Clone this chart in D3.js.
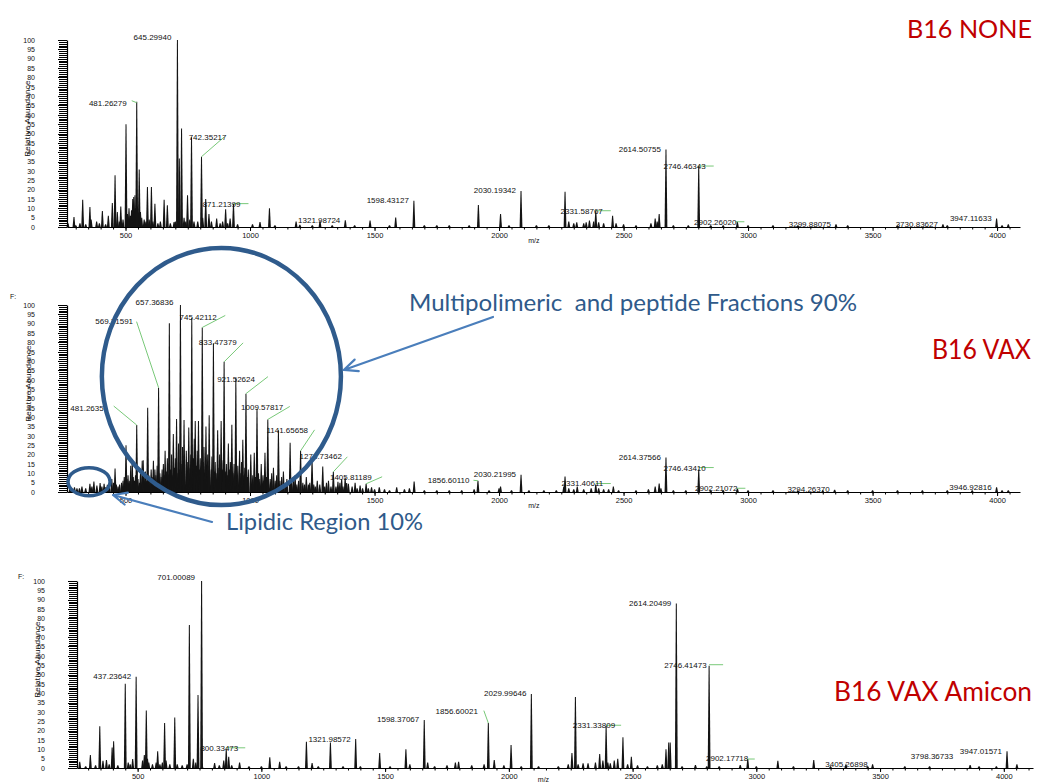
<!DOCTYPE html>
<html>
<head>
<meta charset="utf-8">
<title>B16 MALDI spectra</title>
<script src="https://cdn.jsdelivr.net/npm/d3@7"></script>
<style>
  html, body { margin: 0; padding: 0; background: #fff; }
  svg { display: block; background: #fff; }
  .spec text { font-family: "Liberation Sans", Arial, sans-serif; fill: #111; }
  .callout { font-family: Lato, "Open Sans", sans-serif; }
</style>
</head>
<body>
<svg id="chart" width="1038" height="783"></svg>
<script>
// ---------------- axis tick labels ----------------
const mzTicks = [500, 1000, 1500, 2000, 2500, 3000, 3500, 4000];
const abundanceTicks = [0, 5, 10, 15, 20, 25, 30, 35, 40, 45, 50, 55, 60, 65, 70, 75, 80, 85, 90, 95, 100];

// ---------------- B16 NONE ----------------
// annotated centroids: label text is the calibrated m/z, second array the relative abundance
const noneLabels = ["481.26279", "645.29940", "742.35217", "871.21399", "1321.98724", "1598.43127", "2030.19342",
  "2331.58767", "2614.50755", "2746.46343", "2902.26020", "3299.88075", "3730.83627", "3947.11633"];
const noneAbundance = [67, 100, 37.6, 12.5, 3.6, 14, 19.3, 8.7, 41.5, 32.6, 2.8, 1.5, 1.5, 4.6];
// calibrated m/z -> scan-axis m/z (two reference centroids)
const noneCalibration = [[481.26279, 545], [3947.11633, 3998]];
// unannotated profile peaks on the scan axis [m/z, relative abundance]
const noneProfile = [
  [269, 2], [293, 5.4], [300, 1], [317, 2], [328, 14.6], [340, 1.5], [357, 10.7], [362, 4], [384, 3], [395, 2],
  [407, 8.6], [420, 1.5], [431, 6], [447, 12.9], [458, 27.7], [467, 8], [475, 3], [481, 11], [490, 4], [502, 55],
  [508, 7], [514, 10], [520, 6], [524, 9], [529, 15], [533, 16], [538, 17], [540, 10], [548, 9], [552, 6],
  [555, 30.7], [560, 8], [565, 5], [575, 4], [582, 3], [588, 21.4], [595, 4], [604, 21.4], [610, 3], [618, 12.5],
  [630, 2], [640, 3], [655, 14.6], [668, 11.6], [680, 2], [695, 2.7], [700, 3], [716, 36.6], [725, 52.7], [735, 5],
  [742, 3], [749, 17], [758, 4], [765, 48], [775, 3], [790, 3], [810, 5], [822, 15], [835, 7], [845, 3],
  [866, 4.5], [880, 2], [890, 3], [902, 9.5], [910, 2], [920, 4.5], [950, 1.5], [1010, 1.5], [1040, 2.7], [1078, 10],
  [1100, 1], [1185, 3], [1200, 1.2], [1250, 1], [1281, 3.2], [1330, 1], [1420, 1], [1482, 3.5], [1560, 1], [1585, 5.1],
  [1700, 1], [1750, 1], [1800, 1], [1880, 1], [1917, 11.7], [2006, 7], [2040, 1], [2150, 1], [2200, 1], [2265, 18.8],
  [2280, 3], [2300, 2], [2312, 2.6], [2340, 2], [2350, 2.5], [2363, 3.5], [2380, 3], [2400, 2.5], [2420, 2], [2456, 6],
  [2470, 2], [2500, 1.5], [2550, 1], [2610, 2], [2627, 4.6], [2635, 3], [2643, 7], [2700, 1], [2760, 1], [2850, 1],
  [2900, 1], [3000, 1], [3100, 1], [3200, 1], [3400, 1], [3600, 1], [3800, 1], [4020, 1], [4045, 1.5]
];

// ---------------- B16 VAX ----------------
const vaxLabels = ["481.2635", "569.31591", "657.36836", "745.42112", "833.47379", "921.52624", "1009.57817",
  "1141.65658", "1273.73462", "1405.81189", "1856.60110", "2030.21995", "2331.40611", "2614.37566", "2746.43410",
  "2902.21072", "3294.26370", "3946.92816"];
const vaxAbundance = [35.8, 55.8, 100, 88, 69.6, 52.6, 38.8, 22, 10.8, 4.4, 6, 9.2, 4, 18.4, 12, 2, 1.2, 2.6];
const vaxCalibration = [[481.2635, 545], [3946.92816, 3998]];
const vaxProfile = [
  [277, 2.3], [285, 1.5], [295, 2.5], [305, 2], [315, 2], [325, 3], [340, 2], [357, 4.4], [365, 3], [373, 5.6],
  [385, 3.5], [398, 4.8], [405, 3], [414, 4.4], [420, 2.5], [427, 3.9], [435, 3], [445, 7], [452, 5], [458, 12.6],
  [463, 4], [470, 3], [476, 4], [484, 5], [490, 6], [495, 8], [498, 5], [502, 25], [506, 7], [510, 9],
  [515, 6], [521, 14], [527, 16.7], [531, 8], [536, 6], [540, 9], [550, 7], [556, 5], [560, 10], [567, 16.7],
  [571, 17], [575, 8], [580, 11], [585, 6], [589, 45], [594, 9], [598, 7], [603, 12], [607, 8], [612, 16.7],
  [618, 12], [622, 9], [627, 14], [630, 7], [638, 10], [643, 8], [647, 12], [652, 15], [656, 9], [659, 22],
  [664, 11], [668, 18], [671, 8], [676, 90.3], [681, 12], [685, 20], [688, 9], [692, 31], [697, 13], [700, 18],
  [705, 39], [710, 10], [713, 26], [716, 12], [726, 15], [729, 24], [735, 38.5], [744, 22], [747, 12], [750, 16],
  [754, 34.5], [759, 13], [762, 20], [766, 93], [770, 11], [773, 18], [776, 28.5], [780, 38], [785, 14], [788, 22],
  [793, 38], [797, 12], [800, 18], [812, 16], [815, 24], [818, 10], [823, 35], [827, 14], [830, 20], [836, 41],
  [844, 12], [847, 19], [853, 79.6], [857, 11], [860, 16], [864, 10], [870, 33], [875, 13], [878, 20], [884, 38],
  [889, 12], [892, 17], [902, 11], [905, 15], [909, 9], [913, 26], [918, 12], [921, 16], [927, 36], [932, 10],
  [936, 15], [943, 61], [948, 9], [951, 14], [958, 22], [963, 10], [966, 16], [971, 28], [976, 9], [979, 13],
  [990, 8], [993, 12], [1003, 20], [1011, 9], [1017, 21], [1022, 8], [1028, 44.5], [1034, 10], [1037, 7], [1045, 15],
  [1052, 9], [1055, 6], [1060, 21], [1066, 8], [1081, 7], [1087, 10], [1094, 13], [1101, 6], [1107, 9], [1114, 33],
  [1120, 6], [1127, 8], [1134, 11], [1142, 5], [1148, 7], [1161, 26.4], [1167, 5], [1174, 8], [1181, 9], [1188, 4],
  [1195, 6], [1212, 5], [1219, 4], [1226, 8], [1234, 4], [1240, 5], [1249, 17.8], [1256, 4], [1262, 3], [1270, 6],
  [1280, 4], [1292, 13.7], [1300, 3], [1307, 5], [1315, 6], [1325, 3], [1345, 3], [1353, 5.5], [1361, 5], [1368, 7],
  [1373, 3], [1382, 7.8], [1388, 4.8], [1395, 4.4], [1410, 3], [1422, 5], [1430, 2], [1442, 3.5], [1452, 2], [1475, 2],
  [1488, 2.5], [1500, 1.5], [1519, 2.5], [1540, 1.5], [1560, 1], [1589, 2.5], [1620, 1.5], [1640, 2], [1659, 5.6], [1700, 1],
  [1750, 1], [1800, 1], [1850, 1], [1900, 1.5], [1960, 1], [2000, 2], [2006, 3], [2050, 1], [2120, 1], [2180, 1],
  [2230, 1], [2260, 3], [2265, 8.3], [2280, 2], [2300, 1.5], [2314, 3], [2340, 1.5], [2370, 2], [2400, 2], [2420, 1.5],
  [2440, 1.5], [2459, 3], [2480, 1], [2550, 1], [2600, 1.5], [2627, 3], [2643, 4.6], [2650, 2], [2700, 1], [2750, 1],
  [2850, 1], [2900, 1], [3000, 1], [3100, 1], [3200, 1], [3300, 1], [3400, 1], [3500, 1], [3600, 1], [3700, 1],
  [3800, 1], [3900, 1], [4020, 1], [4045, 1]
];

// ---------------- B16 VAX Amicon ----------------
const amiconLabels = ["437.23642", "701.00089", "800.33473", "1321.98572", "1598.37067", "1856.60021", "2029.99646",
  "2331.33809", "2614.20499", "2746.41473", "2902.17718", "3405.26898", "3798.36733", "3947.01571"];
const amiconAbundance = [48.8, 100, 10, 15.5, 25.7, 24, 39.6, 22.6, 88, 54.7, 4.8, 2, 1.6, 8.9];
const amiconCalibration = [[437.23642, 494], [3947.01571, 4013]];
const amiconProfile = [
  [266, 3.4], [290, 1], [309, 7], [330, 1.5], [347, 22.3], [360, 3.9], [374, 4.3], [385, 2], [397, 11], [403, 14.3],
  [420, 1.5], [450, 45], [462, 3], [470, 2], [480, 4.8], [520, 4], [527, 7], [530, 6], [535, 30.7], [540, 5],
  [545, 3], [560, 2], [575, 3], [581, 9], [590, 2], [600, 3], [609, 24], [615, 4], [630, 2], [650, 27],
  [660, 2], [680, 1.5], [700, 2], [709, 76.5], [725, 5], [735, 3], [744, 39], [760, 2], [811, 2.7], [830, 1.5],
  [848, 4], [868, 6], [880, 1.5], [912, 3], [950, 1], [1000, 1], [1034, 5.7], [1074, 3.4], [1100, 1], [1150, 1],
  [1182, 14], [1205, 2.7], [1230, 1], [1279, 13.7], [1330, 1], [1400, 1], [1478, 8], [1520, 1], [1584, 10], [1600, 2],
  [1672, 3], [1700, 1], [1750, 1.5], [1784, 3], [1797, 3.4], [1850, 1.5], [1900, 2], [1941, 4.3], [1980, 1.5], [2009, 12.3],
  [2050, 1], [2120, 1], [2200, 1], [2240, 2], [2255, 8], [2269, 38], [2280, 2], [2300, 2.5], [2320, 2.5], [2350, 3],
  [2367, 7.5], [2380, 4], [2400, 3], [2410, 2.5], [2426, 4], [2440, 5], [2461, 16.4], [2480, 2], [2495, 6], [2520, 1.5],
  [2560, 1], [2600, 1.5], [2620, 2], [2635, 10], [2646, 13.7], [2652, 13.7], [2700, 1], [2754, 1.6], [2800, 1], [2850, 1],
  [2935, 1.6], [3000, 1], [3087, 3.9], [3150, 1], [3232, 4.3], [3300, 1], [3362, 2], [3450, 1], [3600, 1], [3700, 1],
  [3900, 1], [3970, 1], [4053, 2]
];

// ---------------- layout ----------------
const frames = [
  { left: 67, right: 1020, base: 227, top: 40, domain: [265, 4092], tickRight: 35, yTitleX: 27, fMark: null, mzTitleY: 243 },
  { left: 67, right: 1020, base: 492, top: 305, domain: [265, 4092], tickRight: 35, yTitleX: 28, fMark: [10, 299], mzTitleY: 508 },
  { left: 77, right: 1033, base: 768, top: 581, domain: [255, 4118], tickRight: 45, yTitleX: 37.5, fMark: [18, 579], mzTitleY: 782 }
];

// label offsets from the peak apex (text anchored at its end) and optional leader segment
const defaultPlace = { tx: -5, ty: 2.5 };
const placements = [
  {
    "481.26279": { tx: -10, ty: 4, leader: [-5, -1, 0, 1] },
    "645.29940": { tx: -6, ty: 0 },
    "742.35217": { tx: 25, ty: -17, leader: [0, 0, 23, -20] },
    "871.21399": { tx: 7, ty: 3.5, leader: [0, 0, 15, 0] },
    "2331.58767": { tx: 7, ty: 3.5, leader: [0, 0, 15, 0] },
    "2746.46343": { tx: 7, ty: 3, leader: [0, 0, 15, 0] },
    "2902.26020": { tx: -1, ty: 3, leader: [-2, 0, 7, 0] }
  },
  {
    "481.2635": { tx: -33, ty: -14.5, leader: [0, 0, -23, -19] },
    "569.31591": { tx: -25.5, ty: -63.5, leader: [0, 0, -22, -66] },
    "657.36836": { tx: -7, ty: 0 },
    "745.42112": { tx: 14.5, ty: -7.5, leader: [0, 0, 23, -12] },
    "833.47379": { tx: 12.5, ty: -17, leader: [0, 0, 19, -19] },
    "921.52624": { tx: 9, ty: -12, leader: [0, 0, 22, -17] },
    "1009.57817": { tx: 15.5, ty: -9.5, leader: [0, 0, 22, -13] },
    "1141.65658": { tx: 7.5, ty: -18, leader: [0, 0, 14, -21] },
    "1273.73462": { tx: 8.5, ty: -12.5, leader: [0, 0, 14, -15] },
    "1405.81189": { tx: 5.5, ty: -3.5, leader: [0, 0, 16, -7] },
    "1856.60110": { tx: -8.5, ty: 2, leader: [-4.5, -0.5, 0, 0] },
    "2331.40611": { tx: 7.5, ty: 1.5, leader: [0, -1, 15, -1] },
    "2746.43410": { tx: 7, ty: 1, leader: [0, -2, 15, -2] },
    "2902.21072": { tx: 0, ty: 3, leader: [-1, 0, 8, 0] }
  },
  {
    "701.00089": { tx: -6.5, ty: -1 },
    "800.33473": { tx: 12, ty: 1.7, leader: [0, -1.5, 19, -1.5] },
    "1856.60021": { tx: -10.5, ty: -9, leader: [0, 0, -4.5, -12.5] },
    "2331.33809": { tx: 9, ty: 2, leader: [0, -0.5, 15, -0.5] },
    "2746.41473": { tx: -2.5, ty: 2, leader: [0, -1, 14, -1] },
    "2902.17718": { tx: 0.5, ty: 2.3, leader: [-1, 0, 7, 0] },
    "3798.36733": { tx: -17, ty: -6.3 }
  }
];

const spectra = [
  { labels: noneLabels, abundance: noneAbundance, calibration: noneCalibration, profile: noneProfile },
  { labels: vaxLabels, abundance: vaxAbundance, calibration: vaxCalibration, profile: vaxProfile },
  { labels: amiconLabels, abundance: amiconAbundance, calibration: amiconCalibration, profile: amiconProfile }
];

const svg = d3.select("#chart");
const scales = [];
const plainInt = d3.format("d");

// trapezoidal profile peak: ~1 px flat apex, slightly wider foot
function peakPath(x, base, top) {
  const hw = 1.4, tw = 0.5;
  return `M${x - hw},${base}L${x - tw},${top}L${x + tw},${top}L${x + hw},${base}Z`;
}

spectra.forEach((spec, i) => {
  const f = frames[i];
  const x = d3.scaleLinear().domain(f.domain).range([f.left, f.right]);
  const y = d3.scaleLinear().domain([0, 100]).range([f.base, f.top]);
  const calib = d3.scaleLinear()
    .domain(spec.calibration.map(d => d[0]))
    .range(spec.calibration.map(d => d[1]));
  scales.push({ x, y });

  const g = svg.append("g").attr("class", "spec");

  // profile peaks
  g.append("g").selectAll("path").data(spec.profile).join("path")
    .attr("d", d => peakPath(x(d[0]), f.base, y(d[1])))
    .attr("fill", "#141414");

  // annotated centroids, placed on the scan axis through the calibration
  const cents = spec.labels.map((t, k) => {
    const mz = +t;
    return { text: t, mz, v: spec.abundance[k], px: x(calib(mz)), py: y(spec.abundance[k]) };
  });
  g.append("g").selectAll("path").data(cents).join("path")
    .attr("d", d => peakPath(d.px, f.base, d.py))
    .attr("fill", "#141414");

  // y axis: unit minor ticks + labelled majors
  const yMinor = g.append("g").attr("transform", `translate(${f.left},0)`)
    .call(d3.axisLeft(y).ticks(100).tickSize(8).tickSizeOuter(0).tickFormat(""));
  yMinor.select(".domain").remove();
  yMinor.selectAll("line").attr("stroke", "#000").attr("stroke-width", 1).attr("shape-rendering", "crispEdges");

  const yMajor = g.append("g").attr("transform", `translate(${f.left},0)`)
    .call(d3.axisLeft(y).tickValues(abundanceTicks).tickSize(9).tickSizeOuter(0)
      .tickPadding(f.left - f.tickRight - 9).tickFormat(plainInt));
  yMajor.select(".domain").attr("stroke", "#000").attr("stroke-width", 1.2);
  yMajor.selectAll("line").attr("stroke", "#000").attr("shape-rendering", "crispEdges");
  yMajor.selectAll("text").attr("font-size", 7).attr("font-family", '"Liberation Sans", Arial, sans-serif').attr("fill", "#111");

  // x axis
  const xMinor = g.append("g").attr("transform", `translate(0,${f.base})`)
    .call(d3.axisBottom(x).ticks(80).tickSize(2.5).tickSizeOuter(0).tickFormat(""));
  xMinor.select(".domain").remove();
  xMinor.selectAll("line").attr("stroke", "#000");

  const xMajor = g.append("g").attr("transform", `translate(0,${f.base})`)
    .call(d3.axisBottom(x).tickValues(mzTicks).tickSize(4).tickSizeOuter(0).tickPadding(1.5).tickFormat(plainInt));
  xMajor.select(".domain").attr("stroke", "#000").attr("stroke-width", 1);
  xMajor.selectAll("line").attr("stroke", "#000");
  xMajor.selectAll("text").attr("font-size", 7.5).attr("font-family", '"Liberation Sans", Arial, sans-serif').attr("fill", "#111");

  // axis titles
  g.append("text")
    .attr("transform", `translate(${f.yTitleX},${(f.base + f.top) / 2 - 15}) rotate(-90)`)
    .attr("text-anchor", "middle").attr("dy", "0.35em")
    .attr("font-size", 8).attr("letter-spacing", 0.3)
    .text("Relative Abundance");
  g.append("text")
    .attr("x", x(2140)).attr("y", f.mzTitleY)
    .attr("text-anchor", "middle").attr("font-size", 7)
    .text("m/z");
  if (f.fMark) {
    g.append("text").attr("x", f.fMark[0]).attr("y", f.fMark[1]).attr("font-size", 7).text("F:");
  }

  // leaders and centroid labels
  const place = d => Object.assign({}, defaultPlace, placements[i][d.text] || {});
  g.append("g").selectAll("line").data(cents.filter(d => place(d).leader)).join("line")
    .attr("x1", d => d.px + place(d).leader[0]).attr("y1", d => d.py + place(d).leader[1])
    .attr("x2", d => d.px + place(d).leader[2]).attr("y2", d => d.py + place(d).leader[3])
    .attr("stroke", "#79c979").attr("stroke-width", 1);
  g.append("g").selectAll("text").data(cents).join("text")
    .attr("x", d => d.px + place(d).tx).attr("y", d => d.py + place(d).ty)
    .attr("text-anchor", "end").attr("font-size", 8)
    .text(d => d.text);
});

// ---------------- sample titles ----------------
const titles = [
  { text: "B16 NONE", x: 907, y: 38, w: 125, size: 25.5 },
  { text: "B16 VAX", x: 932, y: 359, w: 99, size: 27 },
  { text: "B16 VAX Amicon", x: 834, y: 701, w: 198, size: 27 }
];
svg.append("g").selectAll("text").data(titles).join("text")
  .attr("class", "callout")
  .attr("x", d => d.x).attr("y", d => d.y)
  .attr("font-size", d => d.size).attr("fill", "#c00000")
  .attr("textLength", d => d.w).attr("lengthAdjust", "spacingAndGlyphs")
  .text(d => d.text);

// ---------------- callouts on the VAX spectrum ----------------
const envelopeSpan = { mz: [405, 1365], abundance: [-7, 130.5] };
const lipidSpan = { mz: [269, 438], abundance: [-2, 13] };
const vx = scales[1].x, vy = scales[1].y;
const ell = s => ({
  cx: (vx(s.mz[0]) + vx(s.mz[1])) / 2, rx: (vx(s.mz[1]) - vx(s.mz[0])) / 2,
  cy: (vy(s.abundance[0]) + vy(s.abundance[1])) / 2, ry: (vy(s.abundance[0]) - vy(s.abundance[1])) / 2
});
const big = ell(envelopeSpan), small = ell(lipidSpan);
const co = svg.append("g");
co.append("ellipse").attr("cx", big.cx).attr("cy", big.cy).attr("rx", big.rx).attr("ry", big.ry)
  .attr("fill", "none").attr("stroke", "#2f5b8c").attr("stroke-width", 4.5);
co.append("ellipse").attr("cx", small.cx).attr("cy", small.cy).attr("rx", small.rx).attr("ry", small.ry)
  .attr("fill", "none").attr("stroke", "#2f5b8c").attr("stroke-width", 3.5);

function arrow(x1, y1, x2, y2) {
  const a = Math.atan2(y2 - y1, x2 - x1), len = 15, spread = 0.42;
  const p = d3.path();
  p.moveTo(x1, y1); p.lineTo(x2, y2);
  p.moveTo(x2 - len * Math.cos(a - spread), y2 - len * Math.sin(a - spread));
  p.lineTo(x2, y2);
  p.lineTo(x2 - len * Math.cos(a + spread), y2 - len * Math.sin(a + spread));
  co.append("path").attr("d", p.toString()).attr("fill", "none")
    .attr("stroke", "#4a7ebb").attr("stroke-width", 2.2).attr("stroke-linecap", "round").attr("stroke-linejoin", "round");
}
const tipAngle = -0.05;
arrow(493, 317, big.cx + (big.rx + 3) * Math.cos(tipAngle), big.cy + (big.ry + 3) * Math.sin(tipAngle));
arrow(212, 522, 113, 495);

co.append("text").attr("class", "callout")
  .attr("x", 409).attr("y", 311).attr("font-size", 23).attr("fill", "#2f5a8a")
  .attr("textLength", 448).attr("lengthAdjust", "spacingAndGlyphs")
  .style("white-space", "pre")
  .text("Multipolimeric  and peptide Fractions 90%");
co.append("text").attr("class", "callout")
  .attr("x", 226).attr("y", 530).attr("font-size", 23).attr("fill", "#2f5a8a")
  .attr("textLength", 197).attr("lengthAdjust", "spacingAndGlyphs")
  .text("Lipidic Region 10%");
</script>
</body>
</html>
